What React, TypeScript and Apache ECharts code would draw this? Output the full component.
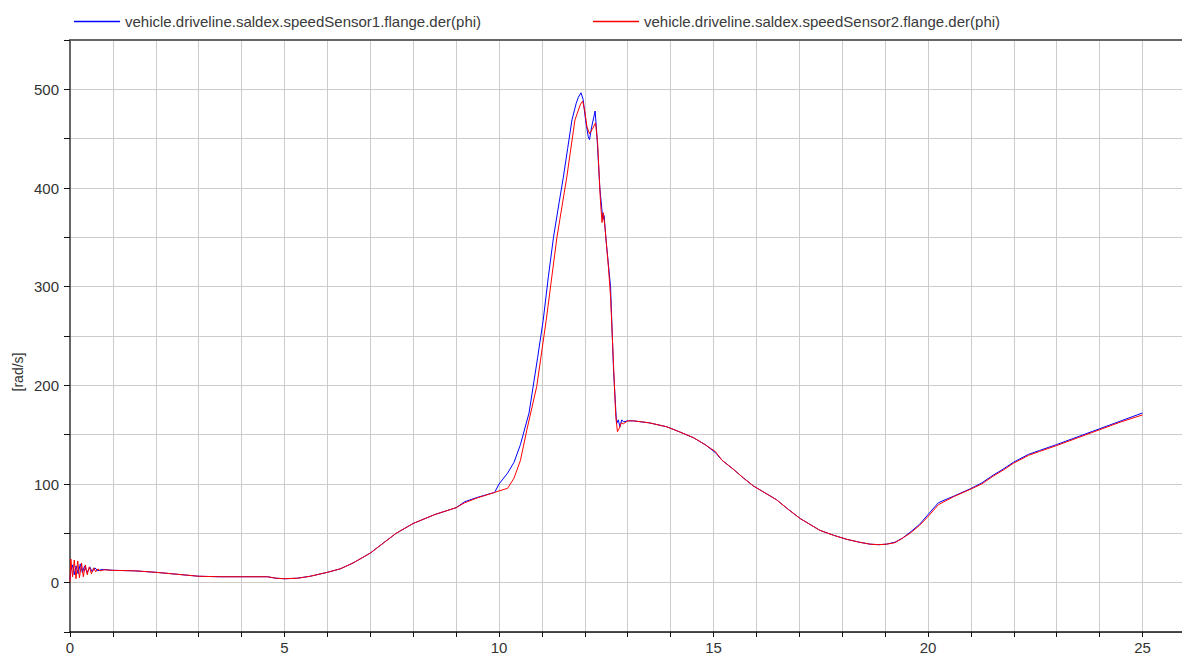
import React, { useEffect, useRef } from "react";
import * as echarts from "echarts";

const seriesNames = [
  "vehicle.driveline.saldex.speedSensor1.flange.der(phi)",
  "vehicle.driveline.saldex.speedSensor2.flange.der(phi)",
];
const yAxisName = "[rad/s]";

// speedSensor1 (blue)
const time1 = [
  0, 0.02, 0.06, 0.1, 0.14, 0.19, 0.24, 0.29, 0.34, 0.4, 0.46, 0.52, 0.58, 0.65, 0.75,
  1.0, 1.5, 2.0, 2.5, 3.0, 3.5, 4.0, 4.6, 4.8, 5.0, 5.3, 5.6, 6.0, 6.3, 6.6, 7.0, 7.3,
  7.6, 8.0, 8.5, 9.0, 9.2, 9.5, 9.9, 10.0, 10.2, 10.35, 10.5, 10.7, 10.9, 11.03, 11.15,
  11.27, 11.4, 11.5, 11.6, 11.7, 11.8, 11.85, 11.91, 11.96, 12.02, 12.08, 12.11, 12.16,
  12.24, 12.28, 12.35, 12.42, 12.45, 12.5, 12.6, 12.67, 12.74, 12.78, 12.82, 12.86, 12.9,
  13.0, 13.13, 13.5, 13.91, 14.2, 14.53, 14.8, 15.04, 15.2, 15.46, 15.7, 15.93, 16.2,
  16.47, 16.75, 17.02, 17.25, 17.48, 17.8, 18.1, 18.4, 18.65, 18.85, 19.03, 19.23, 19.4,
  19.58, 19.8, 20.0, 20.24, 20.59, 20.98, 21.25, 21.52, 21.75, 21.99, 22.34, 22.6, 23.0,
  23.5, 24.0, 24.5, 25.0,
];
const speed1 = [
  3, 12, 18, 8, 17, 9, 19, 10, 17, 10, 16, 11, 15, 12, 13.5,
  12.5, 12, 10.5, 8.5, 6.5, 6, 6, 6, 4.5, 4, 4.5, 6.5, 10.5, 14, 20, 30, 40,
  50, 60, 69, 76, 82, 86.5, 91.5, 100, 111, 122, 140, 172, 228, 266, 310,
  350, 385, 411, 440, 469, 486, 492, 496.5, 490, 468, 452, 449, 462,
  478, 455, 400, 368, 372, 345, 300, 215, 161, 165, 158, 165, 163,
  164, 164, 162, 158, 153, 147, 140, 132, 124, 115, 106, 98, 91,
  84, 74, 65, 59, 53, 48, 44, 41, 39, 38.5, 39, 41, 45,
  51, 59, 69, 81, 87.5, 95, 101, 109, 115, 122, 130, 134, 140,
  148, 156, 164, 172,
];

// speedSensor2 (red)
const time2 = [
  0, 0.02, 0.06, 0.1, 0.14, 0.18, 0.22, 0.27, 0.31, 0.36, 0.4, 0.45, 0.5, 0.55, 0.6,
  0.65, 0.7, 0.8, 1.0, 1.5, 2.0, 2.5, 3.0, 3.5, 4.0, 4.6, 4.8, 5.0, 5.3, 5.6, 6.0, 6.3,
  6.6, 7.0, 7.3, 7.6, 8.0, 8.5, 9.0, 9.2, 9.5, 9.9, 10.0, 10.2, 10.35, 10.5, 10.65,
  10.88, 11.1, 11.35, 11.58, 11.77, 11.9, 11.95, 12.0, 12.05, 12.11, 12.18, 12.25, 12.3,
  12.36, 12.4, 12.43, 12.47, 12.55, 12.6, 12.67, 12.72, 12.76, 12.8, 12.85, 12.9, 13.0,
  13.13, 13.5, 13.91, 14.2, 14.53, 14.8, 15.04, 15.2, 15.46, 15.7, 15.93, 16.2, 16.47,
  16.75, 17.02, 17.25, 17.48, 17.8, 18.1, 18.4, 18.65, 18.85, 19.03, 19.23, 19.4, 19.58,
  19.8, 20.0, 20.24, 20.59, 20.98, 21.25, 21.52, 21.75, 21.99, 22.34, 22.6, 23.0, 23.5,
  24.0, 24.5, 25.0,
];
const speed2 = [
  1, 24, 6, 23, 4, 22, 5, 20, 6, 18, 8, 16, 9, 15, 11,
  14, 12, 13, 12.5, 12, 10.5, 8.5, 6.5, 6, 6, 6, 4.5, 4, 4.5, 6.5, 10.5, 14,
  20, 30, 40, 50, 60, 69, 76, 81, 86, 91.5, 93, 95.6, 106, 124, 155,
  199, 266, 350, 411, 469, 485, 488, 478, 462, 455, 460, 466, 445,
  390, 365, 375, 360, 320, 290, 220, 170, 153, 156, 162, 161, 164,
  164, 162, 158, 153, 147, 140, 133, 124, 115, 106, 98, 91, 84,
  74, 65, 59, 53, 48, 44, 41, 39, 38.5, 39, 40.5, 45, 50,
  58, 67, 79, 87, 94.5, 100, 108, 114, 121, 129, 133, 139, 147,
  155, 163, 170,
];

const xTickLabels = [0, 5, 10, 15, 20, 25];
const yTickLabels = [0, 100, 200, 300, 400, 500];

const zip = (t: number[], v: number[]) => t.map((x, i) => [x, v[i]]);

export default function App() {
  const ref = useRef<HTMLDivElement>(null);
  useEffect(() => {
    if (!ref.current) return;
    const chart = echarts.init(ref.current, null, { renderer: "svg" });
    const font = "Liberation Sans, Arial, sans-serif";
    const xMin = 0;
    const xMax = 25.92;
    chart.setOption({
      animation: false,
      backgroundColor: "#ffffff",
      textStyle: { fontFamily: font },
      grid: { left: 70, right: 0, top: 40, bottom: 25, containLabel: false },
      legend: [
        {
          data: [seriesNames[0]],
          left: 69,
          top: 9,
          icon: "rect",
          itemWidth: 46,
          itemHeight: 1.5,
          textStyle: { fontSize: 15, color: "#3a3a3a", fontFamily: font },
          selectedMode: false,
        },
        {
          data: [seriesNames[1]],
          left: 588,
          top: 9,
          icon: "rect",
          itemWidth: 46,
          itemHeight: 1.5,
          textStyle: { fontSize: 15, color: "#3a3a3a", fontFamily: font },
          selectedMode: false,
        },
      ],
      graphic: [
        {
          type: "text",
          x: 18,
          y: 372,
          rotation: Math.PI / 2,
          style: {
            text: yAxisName,
            fontSize: 14,
            fontFamily: font,
            fill: "#333",
            textAlign: "center",
            textVerticalAlign: "middle",
          },
        },
      ],
      xAxis: [
        {
          type: "value",
          min: xMin,
          max: xMax,
          interval: 1,
          axisLine: { show: true, onZero: false, lineStyle: { color: "#111", width: 1.5 } },
          axisTick: { show: true, length: 5, lineStyle: { color: "#111" } },
          axisLabel: {
            fontSize: 15,
            color: "#333",
            fontFamily: font,
            margin: 8,
            showMaxLabel: false,
            formatter: (v: number) => (xTickLabels.includes(v) ? String(v) : ""),
          },
          splitLine: { show: true, lineStyle: { color: "#cccccc", width: 1 } },
        },
        {
          type: "value",
          position: "top",
          min: xMin,
          max: xMax,
          interval: 1,
          axisLine: { show: true, onZero: false, lineStyle: { color: "#666", width: 2 } },
          axisTick: { show: false },
          axisLabel: { show: false },
          splitLine: { show: false },
        },
      ],
      yAxis: {
        type: "value",
        min: -50,
        max: 550,
        interval: 50,
        axisLine: { show: true, onZero: false, lineStyle: { color: "#666", width: 2 } },
        axisTick: { show: true, length: 6, lineStyle: { color: "#111" } },
        axisLabel: {
          fontSize: 15,
          color: "#333",
          fontFamily: font,
          margin: 11,
          formatter: (v: number) => (yTickLabels.includes(v) ? String(v) : ""),
        },
        splitLine: { show: true, lineStyle: { color: "#cccccc", width: 1 } },
      },
      series: [
        {
          name: seriesNames[0],
          type: "line",
          data: zip(time1, speed1),
          showSymbol: false,
          symbol: "none",
          lineStyle: { color: "#0000ff", width: 1 },
          itemStyle: { color: "#0000ff" },
        },
        {
          name: seriesNames[1],
          type: "line",
          data: zip(time2, speed2),
          showSymbol: false,
          symbol: "none",
          lineStyle: { color: "#ff0000", width: 1 },
          itemStyle: { color: "#ff0000" },
        },
      ],
    });
    return () => chart.dispose();
  }, []);
  return (
    <div
      ref={ref}
      style={{ position: "absolute", left: 0, top: 0, width: 1182, height: 657 }}
    />
  );
}
